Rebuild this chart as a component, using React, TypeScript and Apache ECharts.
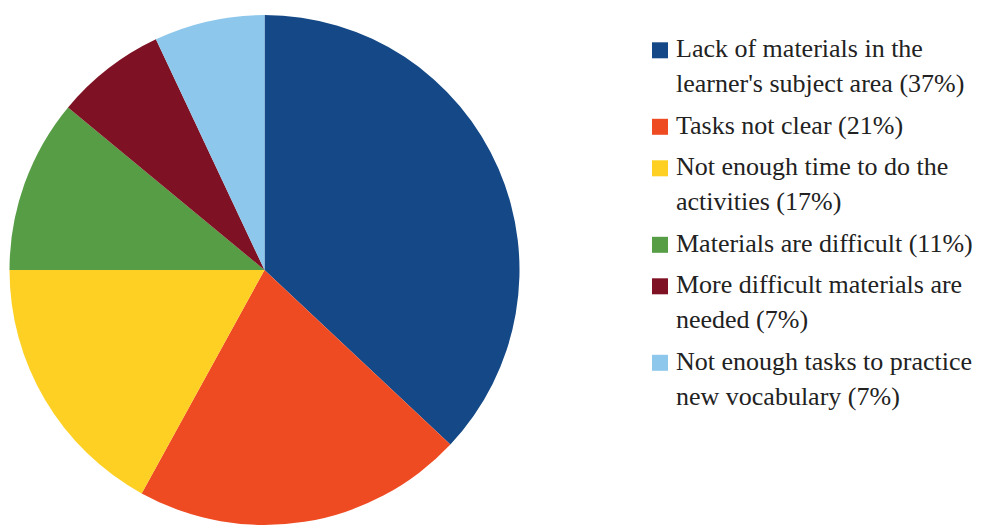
import React, { useEffect, useRef } from "react";
import * as echarts from "echarts";

const categories: string[] = [
  "Lack of materials in the\nlearner's subject area",
  "Tasks not clear",
  "Not enough time to do the\nactivities",
  "Materials are difficult",
  "More difficult materials are\nneeded",
  "Not enough tasks to practice\nnew vocabulary",
];
const values: number[] = [37, 21, 17, 11, 7, 7];
const colors: string[] = ["#144886", "#EF4B23", "#FDD023", "#569D45", "#7E1224", "#8DC7EB"];

export default function App() {
  const ref = useRef<HTMLDivElement>(null);
  const legRef = useRef<HTMLDivElement>(null);
  useEffect(() => {
    if (!ref.current || !legRef.current) return;
    const chart = echarts.init(ref.current, null, { renderer: "svg" });
    const legend = echarts.init(legRef.current, null, { renderer: "svg" });

    const fontSize = 26;
    const lineH = 35;
    const itemGapExtra = 41.5;
    const marks: any[] = [];
    const texts: any[] = [];
    let baseline = 59.3;
    categories.forEach((cat, i) => {
      const lines = cat.split("\n");
      lines[lines.length - 1] = `${lines[lines.length - 1]} (${values[i]}%)`;
      marks.push({
        type: "rect",
        shape: { x: 652, y: baseline - 17, width: 16, height: 16 },
        style: { fill: colors[i] },
      });
      lines.forEach((ln, j) => {
        texts.push({
          type: "text",
          x: 676,
          y: baseline + j * lineH - 23.4,
          style: {
            text: ln,
            fontSize: fontSize,
            fontFamily: "Liberation Serif",
            fill: "#222",
          },
        });
      });
      baseline += (lines.length - 1) * lineH + itemGapExtra;
    });

    chart.setOption({
      animation: false,
      backgroundColor: "#ffffff",
      color: colors,
      graphic: marks,
      series: [
        {
          type: "pie",
          center: [264.5, 270],
          radius: 255,
          startAngle: 90,
          clockwise: true,
          label: { show: false },
          labelLine: { show: false },
          itemStyle: { borderWidth: 0 },
          emphasis: { disabled: true },
          data: categories.map((c, i) => ({ name: c, value: values[i] })),
        },
      ],
    });
    legend.setOption({
      animation: false,
      graphic: texts,
    });
    return () => {
      chart.dispose();
      legend.dispose();
    };
  }, []);
  return (
    <div>
      <div
        ref={ref}
        style={{ position: "fixed", left: 0, top: 0, width: 997, height: 525 }}
      />
      <div
        ref={legRef}
        style={{ position: "fixed", left: 0, top: 0, width: 997, height: 525, pointerEvents: "none" }}
      />
    </div>
  );
}
